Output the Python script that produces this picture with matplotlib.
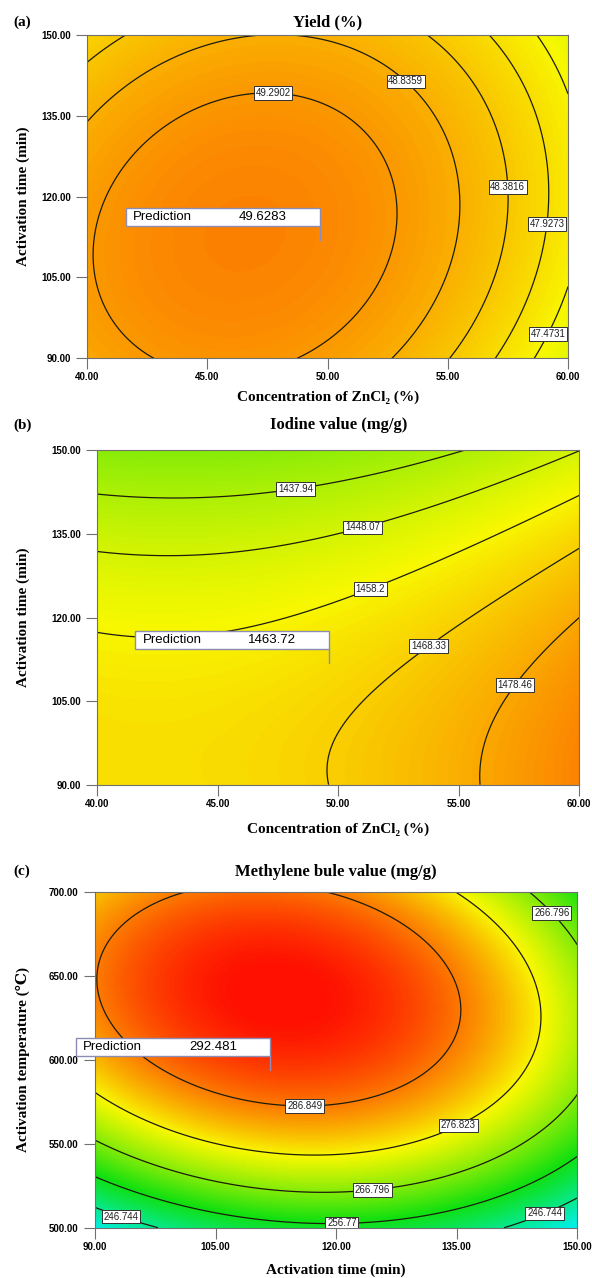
import numpy as np
import matplotlib.pyplot as plt
from matplotlib.colors import LinearSegmentedColormap, Normalize
from matplotlib.patches import Rectangle
from matplotlib.lines import Line2D

# ---------------- data ----------------
# (a) Yield (%): ZnCl2 concentration (%) vs activation time (min)
a_levels = [47.4731, 47.9273, 48.3816, 48.8359, 49.2902]
# points on the contour lines (x, y, contour value)
a_x = [40.25, 52.9, 47.18, 42.75, 48.71, 40.74, 52.85,
       40.0, 48.0, 53.4, 55.44, 52.66,
       40.0, 41.64, 54.1, 57.45, 55.09,
       56.75, 59.1, 59.2, 56.96,
       58.7, 60.0, 60.0, 58.63]
a_y = [109.5, 116.3, 139.2, 90, 90, 119.4, 121.0,
       134.2, 150, 141.0, 120.5, 90,
       145.0, 150, 150, 121.8, 90,
       150, 120, 115, 90,
       150, 139.5, 103.3, 90]
a_z = [49.2902] * 7 + [48.8359] * 5 + [48.3816] * 5 + [47.9273] * 4 + [47.4731] * 4
a_pred = (49.68, 111.95, 49.6283)

# (b) Iodine value (mg/g): ZnCl2 concentration (%) vs activation time (min)
b_levels = [1437.94, 1448.07, 1458.2, 1468.33, 1478.46]
b_x = [40.0, 43.85, 48.2, 55.12,
       40.0, 43.57, 50.97, 59.96,
       40.0, 41.5, 46.68, 51.3, 60.0,
       49.63, 49.65, 50.2, 51.45, 53.7, 56.6, 60.0,
       55.9, 56.3, 57.26, 60.0]
b_y = [142.2, 141.3, 143.5, 150,
       132.0, 130.8, 136.1, 150,
       117.6, 116.6, 117.8, 125.3, 141.9,
       90, 94.8, 102.6, 108.5, 115.0, 122.3, 132.5,
       90, 99.6, 108.1, 119.6]
b_z = [1437.94] * 4 + [1448.07] * 4 + [1458.2] * 5 + [1468.33] * 7 + [1478.46] * 4
b_pred = (49.63, 111.8, 1463.72)

# (c) Methylene blue value (mg/g): activation time (min) vs temperature (C)
c_levels = [246.744, 256.77, 266.796, 276.823, 286.849]
c_x = [100.6, 119.2, 90.4, 130.8, 135.4, 135.8, 134.2, 123.8, 115.9, 106.0, 95.6, 91.9,
       135.0, 141.2, 144.9, 145.1, 142.4, 134.9, 115.9, 90.0,
       144.9, 150.0, 150.0, 124.2, 90.0,
       150.0, 120.9, 90.0,
       150.0, 143.0, 90.0, 97.0]
c_y = [700, 700, 650.7, 664.6, 634.8, 620.9, 606.0, 582.1, 570.2, 584.0, 602.0, 620.9,
       700, 676.5, 644.7, 611.0, 582.0, 563.2, 542.4, 582.1,
       700, 666.6, 581.1, 522.9, 553.3,
       545.3, 503.6, 530.4,
       518.5, 500, 512.5, 500]
c_z = [286.849] * 12 + [276.823] * 8 + [266.796] * 5 + [256.77] * 3 + [246.744] * 4
c_pred = (111.8, 594.0, 292.481)

# ---------------- layout / style ----------------
W, H = 592, 1278
fig = plt.figure(figsize=(W / 100, H / 100), dpi=100)

de_cmap = LinearSegmentedColormap.from_list(
    'de', ['#0000ff', '#00f0f0', '#10e010', '#f8f800', '#ff1000'])

serif = ['Liberation Serif', 'DejaVu Serif', 'Noto Sans CJK SC']
sans = ['Liberation Sans', 'DejaVu Sans']


def fit_surface(x, y, z, pred, xr, yr, px_w, px_h):
    # quadratic response surface in coded units; the fit is reweighted so the
    # residuals are roughly distances (in pixels) from the read contour points
    xm, xh = (xr[0] + xr[1]) / 2, (xr[1] - xr[0]) / 2
    ym, yh = (yr[0] + yr[1]) / 2, (yr[1] - yr[0]) / 2

    def design(xx, yy):
        A = (np.asarray(xx, float) - xm) / xh
        B = (np.asarray(yy, float) - ym) / yh
        return np.stack([np.ones_like(A), A, B, A * B, A * A, B * B], axis=-1)

    xs = np.append(x, pred[0])
    ys = np.append(y, pred[1])
    zs = np.append(z, pred[2])
    D = design(xs, ys)
    A, B = D[:, 1], D[:, 2]
    w = np.ones(len(zs))
    for _ in range(8):
        coef, *_ = np.linalg.lstsq(D * w[:, None], zs * w, rcond=None)
        gA = coef[1] + coef[3] * B + 2 * coef[4] * A
        gB = coef[2] + coef[3] * A + 2 * coef[5] * B
        g = np.hypot(gA / (px_w / 2), gB / (px_h / 2))
        g = np.maximum(g, 0.1 * np.median(g))
        w = 1 / g
        w[-1] = 2 * np.median(w[:-1])

    gx = np.linspace(xr[0], xr[1], 300)
    gy = np.linspace(yr[0], yr[1], 300)
    GX, GY = np.meshgrid(gx, gy)
    return GX, GY, design(GX, GY) @ coef


def panel(box, xr, yr, xt, yt, x, y, z, pred, levels, label_pos, vlim,
          letter, title, title_y, xlabel, xlabel_y, ylabel):
    l, t, r, b = box
    ax = fig.add_axes([l / W, 1 - b / H, (r - l) / W, (b - t) / H])
    GX, GY, Z = fit_surface(x, y, z, pred, xr, yr, r - l, b - t)
    ax.imshow(Z, extent=[xr[0], xr[1], yr[0], yr[1]], origin='lower',
              aspect='auto', cmap=de_cmap, norm=Normalize(*vlim),
              interpolation='bilinear')
    cs = ax.contour(GX, GY, Z, levels=sorted(levels), colors='#1c1c0c',
                    linewidths=0.9)
    texts = ax.clabel(cs, fmt={lv: str(lv) for lv in levels}, manual=label_pos,
                      inline=False, fontsize=7)
    for tx in texts:
        tx.set_rotation(0)
        tx.set_family(sans)
        tx.set_color('#202020')
        tx.set_bbox(dict(boxstyle='square,pad=0.18', fc='white', ec='#303030', lw=0.7))
        tx.set_zorder(5)
    ax.set_xlim(xr)
    ax.set_ylim(yr)
    ax.set_xticks(xt)
    ax.set_yticks(yt)
    ax.set_xticklabels(['%.2f' % v for v in xt])
    ax.set_yticklabels(['%.2f' % v for v in yt])
    for lab in ax.get_xticklabels() + ax.get_yticklabels():
        lab.set_family(sans)
        lab.set_fontweight('bold')
        lab.set_fontsize(7)
    ax.tick_params(axis='both', direction='out', length=8, width=0.8,
                   color='#707070')
    ax.tick_params(axis='x', pad=2)
    ax.tick_params(axis='y', pad=4)
    for s in ax.spines.values():
        s.set_color('#707070')
        s.set_linewidth(0.8)

    cx = (l + r) / 2
    fig.text(cx / W, 1 - title_y / H, title, ha='center', va='center',
             family=serif, fontweight='bold', fontsize=12)
    fig.text(13 / W, 1 - title_y / H, letter, ha='left', va='center',
             family=serif, fontweight='bold', fontsize=11)
    fig.text(cx / W, 1 - xlabel_y / H, xlabel, ha='center', va='center',
             family=serif, fontweight='bold', fontsize=11)
    fig.text(23 / W, 1 - (t + b) / 2 / H, ylabel, ha='center', va='center',
             rotation=90, family=serif, fontweight='bold', fontsize=11)

    # prediction flag
    X, Y = ax.transData.transform((pred[0], pred[1]))
    bw, bh, gap = 194, 18, 14
    x0, y0 = X - bw, Y + gap
    fig.add_artist(Line2D([X / W, X / W], [Y / H, y0 / H], transform=fig.transFigure,
                          color='#8c8cc0', lw=1.0, zorder=6))
    fig.add_artist(Rectangle((x0 / W, y0 / H), bw / W, bh / H, transform=fig.transFigure,
                             fc='white', ec='#8c8cb4', lw=1.0, zorder=6))
    fig.text((x0 + 7) / W, (y0 + bh / 2) / H, 'Prediction', va='center', ha='left',
             family=sans, fontsize=9.5, zorder=7)
    fig.text((x0 + 113) / W, (y0 + bh / 2) / H, str(pred[2]), va='center', ha='left',
             family=sans, fontsize=9.5, zorder=7)
    return ax


panel((87.3, 35, 568, 358.3), (40, 60), (90, 150),
      [40, 45, 50, 55, 60], [90, 105, 120, 135, 150],
      a_x, a_y, a_z, a_pred, a_levels,
      [(47.74, 140.1), (53.36, 141.95), (57.45, 121.8), (59.04, 115.0), (58.97, 94.9)],
      (33.7, 52.0), '(a)', 'Yield (%)', 22,
      'Concentration of ZnCl\u2082 (%)', 397, 'Activation time (min)')

panel((97.3, 450.3, 579.3, 784.7), (40, 60), (90, 150),
      [40, 45, 50, 55, 60], [90, 105, 120, 135, 150],
      b_x, b_y, b_z, b_pred, b_levels,
      [(48.2, 143.66), (50.97, 136.66), (51.31, 125.2), (53.73, 114.95), (57.26, 108.07)],
      (1274, 1519), '(b)', 'Iodine value (mg/g)', 425,
      'Concentration of ZnCl\u2082 (%)', 829, 'Activation time (min)')

panel((95, 892.3, 577.3, 1227.7), (90, 150), (500, 700),
      [90, 105, 120, 135, 150], [500, 550, 600, 650, 700],
      c_x, c_y, c_z, c_pred, c_levels,
      [(146.8, 687.5), (116.1, 573.8), (134.98, 563.2), (124.4, 525.9),
       (120.7, 506.0), (93.5, 510.2), (145.6, 512.5)],
      (219, 295.7), '(c)', 'Methylene bule value (mg/g)', 871.7,
      'Activation time (min)', 1270, 'Activation temperature (\u2103)')

fig.savefig('out.png', dpi=100)
